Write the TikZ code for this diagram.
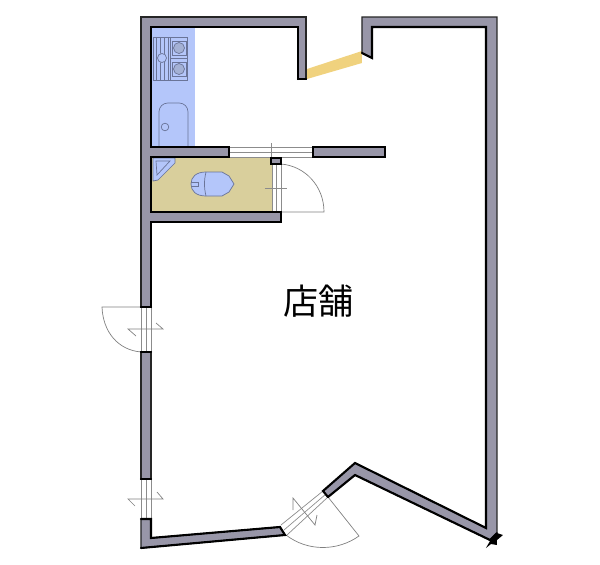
\documentclass[tikz,border=0pt]{standalone}
\usepackage{fontspec}
\newfontfamily\cjk{Noto Sans CJK JP}
\definecolor{wallgray}{HTML}{9896A8}
\definecolor{kitchenblue}{HTML}{B4C6FA}
\definecolor{toiletbeige}{HTML}{D9CF9C}
\definecolor{fixline}{HTML}{6A7498}
\definecolor{glassyellow}{HTML}{F0D27E}
\tikzset{
  wallfill/.style={fill=wallgray,draw=black!85,line width=0.7pt,line join=miter},
  walledge/.style={draw=black,line width=1.2pt,line cap=round},
  fixture/.style={draw=fixline,line width=0.4pt},
  frameline/.style={draw=gray!90,line width=0.4pt},
  doorline/.style={draw=gray,line width=0.4pt},
}
\begin{document}
\begin{tikzpicture}[x=0.02cm,y=-0.02cm]
  \useasboundingbox (0,0) rectangle (600,565);

  % room fills
  \fill[kitchenblue] (151,27) rectangle (195,148);
  \fill[toiletbeige] (151,157) rectangle (272,212);
  \fill[glassyellow] (307,69) -- (362,51) -- (362,63) -- (307,79) -- cycle;

  % stove
  \draw[fixture] (153,37) rectangle (187,80);
  \draw[fixture] (170,37) -- (170,80);
  \draw[fixture] (170,58) -- (187,58);
  \foreach \x in {156,160,164,168}
  {
    \draw[fixture] (\x,37) -- (\x,80);
  }
  \fill[kitchenblue] (162,58) circle (5);
  \draw[fixture] (162,58) circle (4.5);
  \foreach \y in {48,69}
  {
    \draw[fixture] (172,\y-7) rectangle (186,\y+7);
    \draw[fixture,fill=kitchenblue!70!gray] (179,\y) circle (5.5);
  }

  % sink
  \draw[fixture,rounded corners=5] (159,148) -- (159,103) -- (188,103) -- (188,148);
  \draw[fixture] (165,127) circle (3.8);

  % basin and toilet
  \draw[fixture,fill=kitchenblue] (153,158) -- (175,158) -- (175,163) -- (158,180) -- (153,181) -- cycle;
  \draw[fixture] (156,161) -- (170,161) -- (157,175) -- cycle;
  \draw[fixture,fill=kitchenblue] (206,172) -- (222,172) -- (229,176) -- (234,184) -- (229,192) -- (222,196) -- (206,196)
    .. controls (196,196) and (191,191) .. (191,184) .. controls (191,177) and (196,172) .. (206,172) -- cycle;
  \draw[fixture] (206,172) .. controls (204,180) and (204,188) .. (206,196);
  \draw[fixture] (191,182) -- (198,182) -- (198,186) -- (191,186);

  % openings
  \draw[frameline] (229,147) -- (313,147) (229,152) -- (313,152) (229,157) -- (313,157);
  \draw[frameline] (271,143) -- (271,164);
  \draw[frameline] (272,164) -- (272,212) (276,164) -- (276,212) (281,164) -- (281,212);
  \draw[frameline] (265,188) -- (287,188);
  \draw[frameline] (141,307) -- (141,352) (146,307) -- (146,352) (151,307) -- (151,352);
  \draw[frameline] (141,479) -- (141,519) (146,479) -- (146,519) (151,479) -- (151,519);
  \draw[frameline] (281,525) -- (323,491) (284,530) -- (326,494) (287,535) -- (328,497);

  % door leaves
  \draw[doorline] (281,164) .. controls (305,166) and (324,186) .. (324,212) -- (281,212);
  \draw[doorline] (141,307) -- (102,307) .. controls (103,332) and (118,350) .. (141,352);
  \draw[doorline] (328,497) -- (359,536) .. controls (338,551) and (308,552) .. (286,535);

  % door marks
  \draw[doorline] (136,336) -- (128,329) -- (163,329) -- (156,323);
  \draw[doorline] (135,506) -- (128,499) -- (163,499) -- (157,492);
  \draw[doorline] (293,510) -- (293,498) -- (315,525) -- (317,515);

  % corner star
  \fill[black] (483,537) -- (490,541) -- (486,548) -- (491,544) -- (497,545) -- (497,540) -- (503,535) -- (497,533) -- cycle;

  % walls
  \draw[wallfill] (141,17) -- (306,17) -- (306,79) -- (298,79) -- (298,27) -- (151,27) -- (151,147)
    -- (229,147) -- (229,157) -- (151,157) -- (151,212) -- (281,212) -- (281,222) -- (151,222)
    -- (151,307) -- (141,307) -- cycle;
  \draw[wallfill] (313,147) rectangle (385,157);
  \draw[wallfill] (271,158) rectangle (281,164);
  \draw[wallfill] (141,352) rectangle (151,479);
  \draw[wallfill] (141,519) -- (151,519) -- (151,538) -- (280,527) -- (285,535) -- (141,548) -- cycle;
  \draw[wallfill] (362,17) -- (497,17) -- (497,533) -- (490,540) -- (355,475) -- (328,497) -- (323,491)
    -- (355,463) -- (486,528) -- (486,27) -- (372,27) -- (372,58) -- (362,53) -- cycle;

  % heavy wall edges
  \draw[walledge] (298,79) -- (298,27) -- (151,27) -- (151,147) -- (229,147) -- (229,157) -- (151,157)
    -- (151,212) -- (281,212) -- (281,222) -- (151,222) -- (151,307);
  \draw[walledge] (298,79) -- (306,79);
  \draw[walledge] (313,147) rectangle (385,157);
  \draw[walledge] (271,158) rectangle (281,164);
  \draw[walledge] (141,307) -- (151,307);
  \draw[walledge] (141,352) -- (151,352);
  \draw[walledge] (141,479) -- (151,479);
  \draw[walledge] (141,519) -- (151,519) -- (151,538) -- (280,527) -- (285,535) -- (141,548);
  \draw[walledge] (328,497) -- (323,491) -- (355,463) -- (486,528) -- (486,27) -- (372,27) -- (372,58) -- (362,53);
  \draw[walledge] (497,533) -- (490,540) -- (355,475) -- (328,497);

  % label
  \node[font=\cjk] (shop) at (319,301) {\fontsize{20pt}{20pt}\selectfont 店舗};
\end{tikzpicture}
\end{document}
